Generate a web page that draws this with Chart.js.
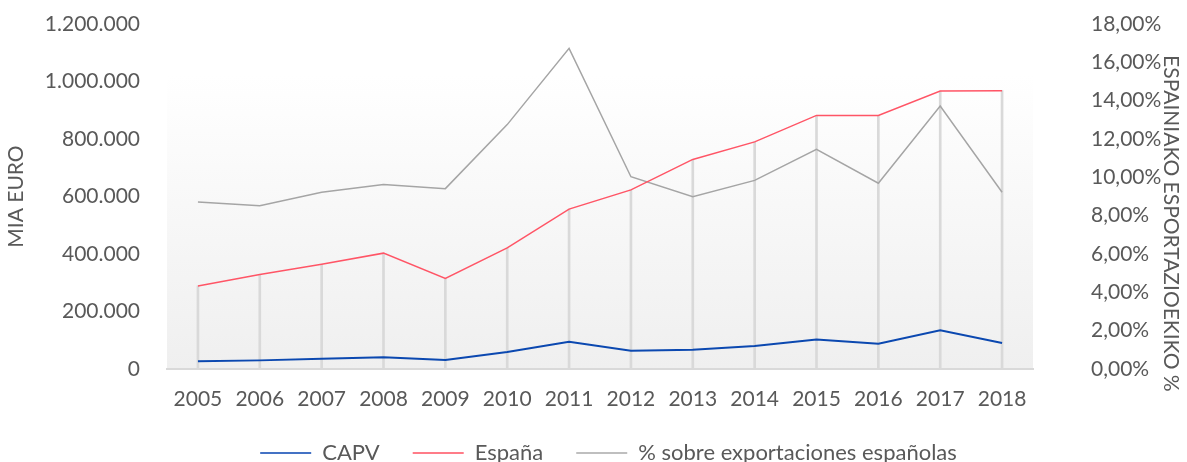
<!DOCTYPE html>
<html>
<head>
<meta charset="utf-8">
<script src="https://cdn.jsdelivr.net/npm/chart.js@4/dist/chart.umd.min.js"></script>
<style>
  html, body { margin: 0; padding: 0; background: #fff; }
  #wrap { width: 1187px; height: 462px; }
</style>
</head>
<body>
<div id="wrap"><canvas id="chart"></canvas></div>
<script>
const years = ['2005', '2006', '2007', '2008', '2009', '2010', '2011', '2012', '2013', '2014', '2015', '2016', '2017', '2018'];
const capv = [26800, 30000, 36000, 40700, 31300, 59000, 95000, 63700, 67000, 80000, 103000, 88000, 134600, 90400];
const espana = [288700, 329000, 364000, 403000, 315000, 421000, 556000, 623000, 729000, 790000, 882000, 882000, 967000, 968000];
const pctSpain = [0.0871, 0.0852, 0.0922, 0.0962, 0.0941, 0.1275, 0.1673, 0.1003, 0.0899, 0.0984, 0.1146, 0.0969, 0.1372, 0.0922];

const textColor = '#595959';
const fontFamily = 'Lato, "Open Sans", sans-serif';

const plotGradient = {
  id: 'plotGradient',
  beforeDraw(chart) {
    const { ctx, chartArea: a } = chart;
    const g = ctx.createLinearGradient(0, a.top, 0, a.bottom);
    g.addColorStop(0, '#ffffff');
    g.addColorStop(0.15, '#ffffff');
    g.addColorStop(1, '#efefef');
    ctx.save();
    ctx.fillStyle = g;
    ctx.fillRect(a.left, a.top, a.right - a.left, a.bottom - a.top);
    ctx.restore();
  }
};

function euro(v) {
  return v.toString().replace(/\B(?=(\d{3})+(?!\d))/g, '.');
}

// invisible tick marks, used only to push the tick labels away from the plot
const hiddenTicks = len => ({ display: true, drawOnChartArea: false, drawTicks: true, tickLength: len, color: 'rgba(0,0,0,0)' });

new Chart(document.getElementById('chart'), {
  data: {
    labels: years,
    datasets: [
      {
        type: 'line',
        label: 'CAPV',
        data: capv,
        yAxisID: 'y',
        borderColor: '#0B48B0',
        backgroundColor: '#4472C4',
        borderWidth: 2,
        pointRadius: 0,
        tension: 0,
        order: 1
      },
      {
        type: 'line',
        label: 'España',
        data: espana,
        yAxisID: 'y',
        borderColor: '#FF5566',
        backgroundColor: '#FF7C88',
        borderWidth: 1.5,
        pointRadius: 0,
        tension: 0,
        order: 2
      },
      {
        type: 'line',
        label: '% sobre exportaciones españolas',
        data: pctSpain,
        yAxisID: 'y1',
        borderColor: '#A5A5A5',
        backgroundColor: '#BFBFBF',
        borderWidth: 1.5,
        pointRadius: 0,
        tension: 0,
        order: 3
      },
      {
        // drop lines from España down to the axis
        type: 'bar',
        label: 'drop',
        data: espana,
        yAxisID: 'y',
        backgroundColor: '#D9D9D9',
        barThickness: 2,
        order: 4
      }
    ]
  },
  options: {
    responsive: true,
    maintainAspectRatio: false,
    animation: false,
    layout: { padding: { top: 24, right: 0, bottom: -12, left: 30 } },
    plugins: {
      legend: {
        position: 'bottom',
        labels: {
          color: textColor,
          font: { family: fontFamily, size: 22 },
          boxWidth: 51,
          boxHeight: 2,
          padding: 33,
          generateLabels: chart => Chart.defaults.plugins.legend.labels.generateLabels(chart)
            .filter(item => item.text !== 'drop')
            .map(item => Object.assign(item, { lineWidth: 0 }))
        }
      },
      tooltip: { enabled: false }
    },
    scales: {
      x: {
        grid: { display: false, drawTicks: false },
        border: { display: true, color: '#D9D9D9', width: 2 },
        ticks: { color: textColor, font: { family: fontFamily, size: 21 }, padding: 18, maxRotation: 0 },
        afterFit: s => { s.height = 40; }
      },
      y: {
        position: 'left',
        min: 0,
        max: 1200000,
        grid: hiddenTicks(24),
        border: { display: false },
        ticks: { stepSize: 200000, autoSkip: false, color: textColor, font: { family: fontFamily, size: 21 }, padding: 3, callback: v => euro(v) },
        title: { display: true, text: 'MIA EURO', color: textColor, font: { family: fontFamily, size: 21 }, padding: { top: -26, bottom: 0 } },
        afterFit: s => { s.width = 137; }
      },
      y1: {
        position: 'right',
        min: 0,
        max: 0.18,
        grid: hiddenTicks(55),
        border: { display: false },
        ticks: {
          stepSize: 0.02,
          autoSkip: false,
          color: textColor,
          font: { family: fontFamily, size: 21 },
          padding: 3,
          callback: v => (v * 100).toFixed(2).replace('.', ',') + '%'
        },
        title: {
          display: true,
          text: '\u00A0'.repeat(10) + 'ESPAINIAKO ESPORTAZIOEKIKO %',
          color: textColor,
          font: { family: fontFamily, size: 21 },
          padding: { top: 4, bottom: 0 }
        },
        afterFit: s => { s.width = 154; }
      }
    }
  },
  plugins: [plotGradient]
});
</script>
</body>
</html>
